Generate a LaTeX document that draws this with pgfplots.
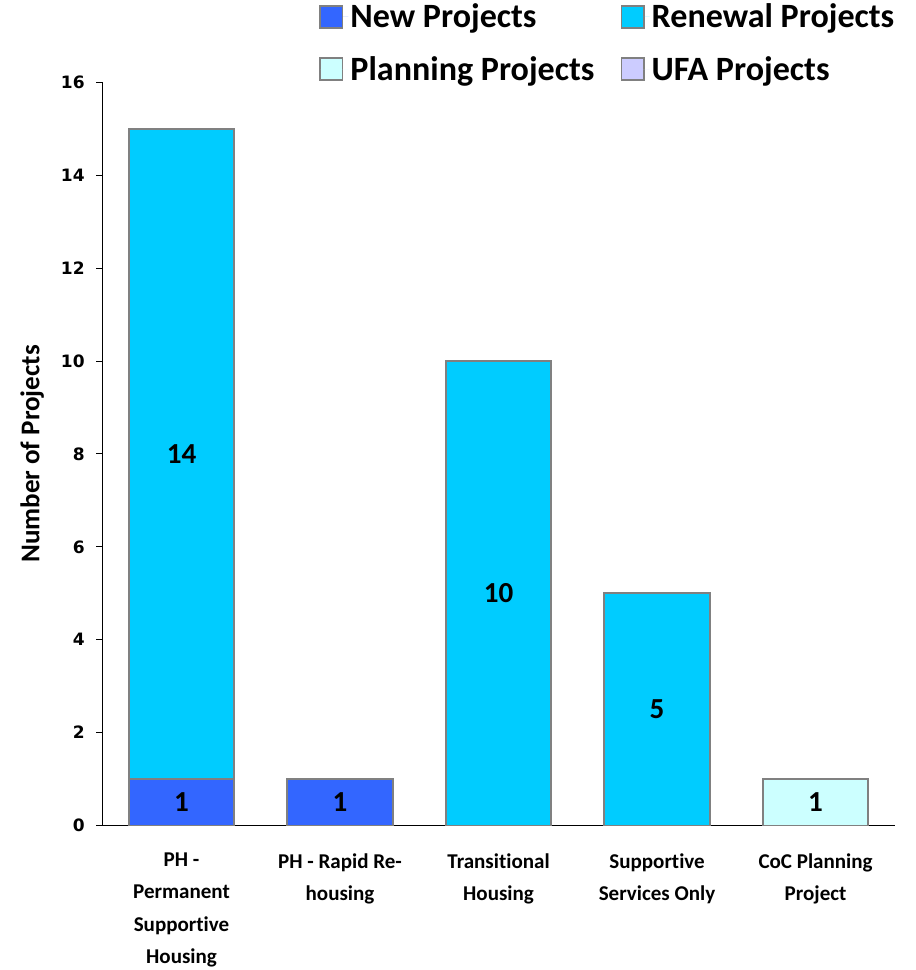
\documentclass[border=0pt]{standalone}
\usepackage{pgfplots}
\pgfplotsset{compat=1.18}
\usepackage{fontspec}
\setmainfont{Carlito}[Ligatures=NoCommon]
\newfontfamily\tickfont{DejaVu Sans}
\definecolor{newc}{HTML}{3366FF}
\definecolor{renc}{HTML}{00CCFF}
\definecolor{plac}{HTML}{CCFFFF}
\definecolor{ufac}{HTML}{CCCCFF}
\definecolor{edge}{HTML}{808080}
\begin{document}
\begin{tikzpicture}
\begin{axis}[
ybar stacked,
scale only axis,
width=788bp, height=739bp, % plot area
xmin=-0.5, xmax=4.5,
ymin=0, ymax=16,
bar width=105bp,
axis x line*=bottom, axis y line*=left,
axis line style={black, line width=1.5bp, -},
xtick=data,
xticklabels={{PH -\\Permanent\\Supportive\\Housing},{PH - Rapid Re-\\housing},{Transitional\\Housing},{Supportive\\Services Only},{CoC Planning\\Project}},
xticklabel style={align=center, font=\bfseries\fontsize{21}{32}\selectfont, yshift=-18bp},
xtick style={draw=none},
ytick={0,2,...,16},
ytick style={black, line width=1bp},
tick align=outside,
major tick length=6bp,
yticklabel style={font=\tickfont\bfseries\fontsize{17}{17}\selectfont, xshift=-8bp},
/pgf/number format/assume math mode=true,
ylabel={Number of Projects},
ylabel style={font=\bfseries\fontsize{27}{27}\selectfont, yshift=10bp},
every axis plot/.append style={draw=edge, line width=1.8bp},
visualization depends on={rawy \as \rawy},
nodes near coords={\ifdim\rawy pt>0pt \pgfmathprintnumber{\rawy}\fi},
every node near coord/.append style={font=\bfseries\fontsize{29}{29}\selectfont, black, anchor=center},
legend columns=2,
legend style={at={(rel axis cs:1.006,1.111)}, anchor=north east, draw=none, fill=none,
  font=\bfseries\fontsize{34}{34}\selectfont, row sep=23bp,
  /tikz/every even column/.append style={column sep=24bp}},
legend cell align=left,
legend image code/.code={\draw[#1, line width=1.8bp] (0bp,-11bp) rectangle (22bp,11bp); \path[draw=none] (0bp,0bp) -- (28bp,0bp);},
]
\addplot[fill=newc] coordinates {(0,1) (1,1) (2,0) (3,0) (4,0)};
\addplot[fill=renc] coordinates {(0,14) (1,0) (2,10) (3,5) (4,0)};
\addplot[fill=plac] coordinates {(0,0) (1,0) (2,0) (3,0) (4,1)};
\addlegendimage{fill=ufac, draw=edge}
\legend{New Projects, Renewal Projects, Planning Projects, UFA Projects}
\end{axis}
% page margins as in the reference
\path (current bounding box.west) ++(-17bp,0);
\path (current bounding box.east) ++(16bp,0);
\end{tikzpicture}
\end{document}
